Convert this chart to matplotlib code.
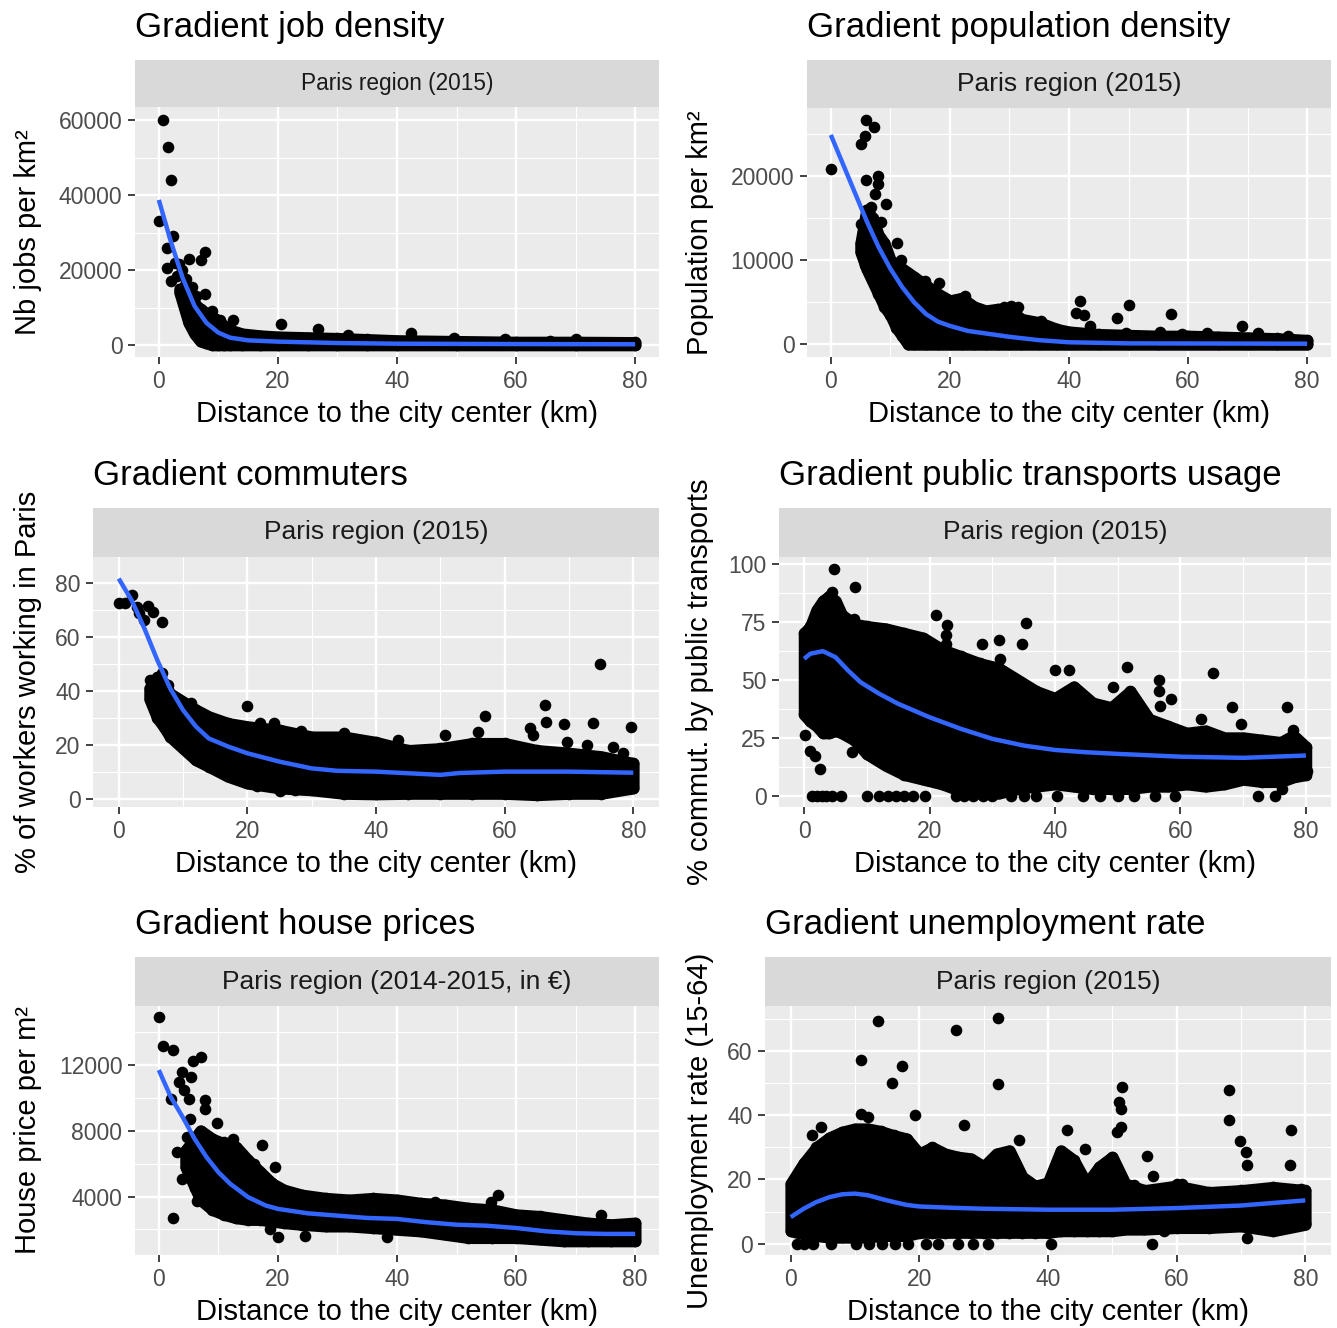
import matplotlib.pyplot as plt
import numpy as np
from matplotlib.ticker import FixedLocator

plt.rcParams['font.family'] = ['Liberation Sans', 'DejaVu Sans']

# ---------------- data ----------------
xticks = [0, 20, 40, 60, 80]

# job density
job_curve_x = [0, 2, 4, 6, 8, 10, 12, 15, 20, 30, 40, 60, 80]
job_curve_y = [38700, 27700, 17900, 10400, 5900, 3300, 1950, 1240, 900, 530, 350, 250, 200]
job_env_x = [3.5, 5, 6, 7, 8, 9, 10, 11, 12, 14, 17, 20, 25, 30, 35, 40, 50, 60, 70, 80]
job_env_lo = [14000, 6000, 3000, 1000, 500, 0, 0, 0, 0, 0, 0, 0, 0, 0, 0, 0, 0, 0, 0, 0]
job_env_hi = [15000, 14000, 11000, 9500, 8500, 7500, 6500, 5000, 4000, 3000, 2500, 2200, 2000, 1800, 1500, 1200, 1000, 800, 800, 700]
job_pts_x = [0.7, 1.6, 2.1, 0, 2.4, 1.4, 7.7, 7.0, 5.1, 1.4, 2.0, 3.4, 3.9, 7.7, 3.6, 12.5, 20.5, 26.8,
             42.4, 49.5, 10.2, 58.1, 65.7, 70, 31.8, 2.8, 3.0, 4.4, 6.2, 9.0, 4.6, 5.6]
job_pts_y = [60000, 52700, 44000, 33000, 29000, 25900, 24800, 22800, 23000, 20600, 17200, 21500, 20100,
             13700, 14400, 6600, 5500, 4200, 3300, 2000, 6800, 1500, 1200, 1500, 2800, 22000, 18500, 16000,
             13000, 9000, 17500, 15500]

# population density
pop_curve_x = [0, 2, 4, 6, 8, 10, 12, 14, 16, 18, 20, 23, 26, 30, 35, 40, 50, 80]
pop_curve_y = [24900, 21500, 18100, 14700, 11600, 9000, 6800, 5000, 3600, 2700, 2200, 1600, 1300, 900,
               500, 250, 120, 80]
pop_env_x = [5, 6, 7, 8, 9, 10, 11, 12, 13, 14, 16, 18, 20, 22, 24, 26, 28, 30, 32, 35, 38, 40, 45, 50,
             55, 60, 65, 70, 75, 80]
pop_env_lo = [11000, 9000, 7500, 6000, 4500, 3500, 2000, 1000, 0, 0, 0, 0, 0, 0, 0, 0, 0, 0, 0, 0, 0, 0,
              0, 0, 0, 0, 0, 0, 0, 0]
pop_env_hi = [12000, 16000, 15000, 13000, 12000, 10000, 9500, 9000, 8500, 8000, 7000, 6000, 5200, 5500,
              4500, 4000, 4200, 4200, 3000, 2600, 1800, 1500, 1200, 1100, 1000, 1000, 900, 800, 700, 500]
pop_pts_x = [0, 5.9, 7.3, 5.7, 5.0, 8.0, 5.9, 8.0, 7.5, 9.3, 6.8, 5.0, 8.4, 11.1, 5.7, 5.7, 11.8, 7.5,
             18.2, 15.9, 22.5, 30.3, 41.8, 41.1, 42.5, 50.1, 48.0, 57.1, 69.1, 43.5, 63.2, 71.7, 76.7,
             49.6, 55.3, 58.9, 37.8, 35.3, 29.0, 31.5]
pop_pts_y = [20900, 26700, 25900, 24800, 23800, 20000, 19500, 19100, 17900, 16700, 16300, 14300, 14500,
             12100, 10000, 9400, 10000, 7600, 7300, 7500, 5800, 4600, 5100, 3700, 3500, 4700, 3100, 3600,
             2200, 2200, 1400, 1300, 1000, 1400, 1500, 1200, 1400, 2800, 4500, 4400]

# commuters
com_curve_x = [0, 2, 4, 6, 8, 10, 12, 14, 17, 20, 25, 30, 34, 40, 45, 50, 53, 60, 70, 80]
com_curve_y = [81.6, 73.6, 63.1, 51.4, 40.9, 32.9, 26.8, 22.4, 19.4, 16.9, 13.8, 11.3, 10.4, 10.1, 9.5,
               8.9, 9.6, 10.1, 10.1, 9.7]
com_env_x = [4.8, 6, 7, 8, 10, 12, 14, 17, 20, 25, 30, 35, 40, 45, 50, 55, 60, 65, 70, 75, 80]
com_env_lo = [37, 30, 26.8, 23, 18.7, 14.4, 12, 8.3, 5.8, 4, 3.3, 2, 1.8, 2, 2, 2, 2, 1.5, 2, 2, 4]
com_env_hi = [41, 45, 42.8, 39, 36, 33, 30.5, 28, 26.8, 25.5, 23, 23, 21, 18, 18.7, 20.6, 20.6, 18, 17,
              15.7, 13.2]
com_pts_x = [0, 0.9, 2.0, 2.9, 3.9, 4.6, 5.4, 6.8, 3.2, 74.8, 20.0, 66.2, 56.9, 73.8, 69.3, 66.5, 79.6,
             55.9, 22.0, 24.1, 28.4, 50.8, 43.4, 69.7, 72.8, 76.9, 78.4, 64.0, 64.4, 35.0, 6.8, 7.7, 11.2,
             79.6, 79.7, 25.1, 27.4, 21.5, 4.9, 5.3]
com_pts_y = [72.4, 72.4, 75.5, 71.1, 66.2, 71.4, 69.3, 65.6, 68.7, 49.9, 34.5, 34.8, 30.7, 28.0, 27.7,
             28.6, 26.5, 24.7, 28.2, 28.0, 25.3, 23.7, 21.8, 21.2, 20.0, 19.4, 16.9, 26.1, 23.7, 24.3,
             46.5, 42.2, 35.4, 12.0, 3.9, 3.1, 3.3, 4.6, 44.0, 35.5]

# public transports
pt_curve_x = [0, 1, 3, 5, 7, 9, 12, 15, 20, 25, 30, 35, 40, 45, 50, 60, 70, 80]
pt_curve_y = [59.0, 61.2, 62.3, 59.7, 54.0, 48.9, 43.9, 39.6, 33.8, 28.8, 24.5, 21.6, 19.7, 18.7, 18.0,
              16.8, 16.3, 17.3]
pt_env_x = [0, 1, 2, 3, 4, 5, 6, 8, 10, 13, 16, 19, 22, 25, 28, 31, 34, 37, 40, 43, 46, 49, 52, 55, 58,
            61, 64, 67, 70, 73, 76, 78, 80]
pt_env_lo = [35, 32, 30, 27, 27, 28, 27, 24, 18, 13, 9, 7, 5, 2, 1, 1, 3, 4, 5, 4, 3, 3, 3, 4, 4, 5, 4,
             5, 7, 6, 6, 8, 9]
pt_env_hi = [70, 73, 80, 84, 86, 84, 78, 74, 73, 72, 70, 68, 63, 60, 57, 55, 50, 45, 42, 47, 40, 38, 45,
             33, 30, 27, 28, 25, 25, 24, 23, 26, 21]
pt_pts_x = [4.7, 8.1, 4.4, 7.9, 21.0, 22.8, 22.7, 22.7, 35.4, 28.3, 31.1, 31.3, 34.7, 25.9, 40.0, 42.3,
            51.4, 65.2, 56.5, 49.3, 56.5, 58.5, 56.8, 77.0, 68.2, 69.6, 63.3, 77.9, 0.1, 0.9, 1.8, 2.5,
            7.6, 10.3, 80.1, 72.3, 75.0, 76.2,
            1.2, 2.0, 2.8, 3.5, 4.5, 5.9, 10.1, 12.0, 13.3, 14.6, 16.0, 17.4, 19.3, 24.2, 25.5, 27.0,
            28.5, 30.0, 33.0, 35.0, 37.0, 40.3, 44.5, 47.2, 50.0, 52.6, 56.0, 59.1]
pt_pts_y = [97.8, 89.9, 87.8, 76.0, 78.1, 73.4, 69.1, 65.2, 74.4, 65.2, 66.9, 59.0, 65.2, 58.3, 54.0,
            54.0, 55.4, 52.8, 49.9, 46.8, 45.3, 41.7, 38.8, 38.1, 38.1, 30.9, 33.1, 28.1, 26.3, 19.4,
            17.3, 11.5, 18.7, 18.3, 10.8, 0, 0, 2.9,
            0, 0, 0, 0, 0, 0, 0, 0, 0, 0, 0, 0, 0, 0, 0, 0, 0, 0, 0, 0, 0, 0, 0, 0, 0, 0, 0, 0]

# house prices
hp_curve_x = [0, 2, 4, 6, 8, 10, 12, 15, 18, 20, 25, 30, 35, 40, 45, 50, 55, 60, 65, 70, 75, 80]
hp_curve_y = [11680, 10050, 8830, 7510, 6400, 5480, 4770, 3960, 3450, 3250, 2980, 2840, 2700, 2640,
              2440, 2290, 2230, 2090, 1890, 1770, 1730, 1730]
hp_env_x = [4.5, 7, 9, 11, 13, 15, 17, 19, 21, 24, 28, 32, 36, 40, 44, 48, 52, 56, 60, 64, 68, 72, 76, 80]
hp_env_lo = [5800, 3800, 3200, 2900, 2700, 2600, 2600, 2500, 2400, 2300, 2200, 2200, 2100, 2000, 1900,
             1700, 1500, 1500, 1500, 1400, 1300, 1300, 1300, 1300]
hp_env_hi = [6800, 8000, 7500, 7200, 7000, 6200, 5500, 4800, 4400, 4100, 3900, 3800, 3900, 3800, 3600,
             3500, 3300, 3200, 2900, 2800, 2600, 2400, 2300, 2400]
hp_pts_x = [0, 0.7, 2.3, 7.0, 5.7, 3.9, 5.4, 3.4, 4.2, 2.0, 5.0, 7.7, 7.7, 9.7, 3.0, 3.9, 6.4, 2.3, 17.3,
            12.5, 19.5, 18.6, 20.0, 24.5, 56.9, 55.8, 74.2, 38.4, 46.3, 11.0, 14.0, 16.0, 5.2, 6.0, 4.8]
hp_pts_y = [14880, 13140, 12890, 12490, 12240, 11570, 11230, 10960, 10460, 9950, 9950, 9890, 9340, 8470,
            6700, 5040, 3720, 2700, 7100, 7510, 5790, 2030, 1520, 1580, 4120, 3650, 2900, 1520, 3650,
            7300, 6600, 6000, 8700, 4500, 7600]

# unemployment
un_curve_x = [0, 2, 4, 6, 8, 10, 12, 14, 16, 18, 20, 25, 30, 40, 50, 60, 70, 80]
un_curve_y = [8.3, 10.9, 13.0, 14.5, 15.4, 15.6, 15.1, 14.0, 13.0, 12.1, 11.6, 11.2, 10.9, 10.6, 10.6,
              11.1, 11.9, 13.5]
un_env_x = [0, 2, 4, 6, 8, 10, 12, 14, 16, 18, 20, 22, 24, 26, 28, 30, 32, 34, 36, 38, 40, 42, 44, 46,
            48, 50, 52, 55, 60, 65, 70, 75, 80]
un_env_lo = [4, 3, 2.5, 2, 2, 2, 2, 2.5, 2.5, 2.5, 3.5, 3.5, 3.5, 3.5, 3.5, 3.5, 3.5, 3.5, 3.5, 3.5, 3.5,
             4, 4, 4, 4, 4, 4.5, 4.5, 5, 5, 5.5, 4, 6]
un_env_hi = [18.7, 25, 30, 33, 34.8, 35.8, 35.8, 35, 33.7, 32.7, 28, 30, 28, 27, 26.5, 24, 28, 29, 20.8,
             18, 19, 29, 26, 18.7, 24, 27, 18.7, 16.6, 18, 16, 16.6, 17.6, 16.6]
un_pts_x = [13.5, 32.2, 25.7, 11.0, 17.3, 15.8, 32.2, 51.5, 68.1, 51.1, 51.3, 51.3, 50.8, 68.2, 77.8,
            19.3, 11.0, 12.0, 43.0, 26.9, 3.3, 4.7, 35.5, 45.8, 69.8, 70.8, 55.4, 56.3, 71.0, 77.6, 79.4,
            80, 71.0, 56.2, 40.4, 58.0, 60, 60.8, 53.4,
            1.0, 2.0, 3.5, 6.3, 10.2, 12.2, 14.2, 16.2, 18.2, 21.1, 22.9, 26.0, 28.3, 30.6]
un_pts_y = [69.2, 70.3, 66.6, 57.1, 55.3, 50.0, 49.8, 48.8, 47.8, 44.1, 42.0, 36.3, 34.8, 38.6, 35.5,
            40.0, 40.5, 39.4, 35.5, 36.9, 33.7, 36.3, 32.2, 29.6, 32.0, 28.5, 27.3, 21.0, 24.4, 24.4, 17.1,
            6.4, 1.9, 0, 0, 3.9, 18.5, 18.7, 18.2,
            0, 0, 0, 0, 0, 0, 0, 0, 0, 0, 0, 0, 0, 0]

# ---------------- figure ----------------
W, H = 1337, 1328
fig = plt.figure(figsize=(W / 100, H / 100), dpi=100)

BLUE = '#3366FF'
PANEL = '#EBEBEB'
STRIP = '#D9D9D9'
DOT = 70
DOT_LW = 8.4


def px_axes(left, top, right, bottom):
    return fig.add_axes([left / W, 1 - bottom / H, (right - left) / W, (bottom - top) / H])


def panel(box, title, strip, strip_fs, ylabel, ylab_x, yticks, yminor, ylim,
          cx, cy, ex, elo, ehi, px, py):
    left, right, s_top, s_bot, bottom = box
    ax = px_axes(left, s_bot, right, bottom)
    ax.set_facecolor(PANEL)
    for sp in ax.spines.values():
        sp.set_visible(False)
    ax.set_xlim(-4, 84)
    ax.set_ylim(*ylim)
    ax.set_xticks(xticks)
    ax.set_xticklabels([str(t) for t in xticks])
    ax.set_yticks(yticks)
    ax.set_yticklabels([str(t) for t in yticks])
    ax.xaxis.set_minor_locator(FixedLocator([10, 30, 50, 70]))
    ax.yaxis.set_minor_locator(FixedLocator(yminor))
    ax.grid(which='major', color='white', linewidth=1.7, zorder=0)
    ax.grid(which='minor', color='white', linewidth=0.85, zorder=0)
    ax.set_axisbelow(True)
    ax.tick_params(which='major', length=5, width=1.3, color='#333333',
                   labelsize=16.5, labelcolor='#4D4D4D', pad=4)
    ax.tick_params(which='minor', length=0)

    # dense cloud of points, then single points
    ax.fill_between(ex, elo, ehi, facecolor='black', edgecolor='black',
                    linewidth=DOT_LW, joinstyle='round', zorder=2)
    ax.scatter(ex + ex, elo + ehi, s=DOT, color='black', linewidths=0, zorder=2)
    ax.scatter(px, py, s=DOT, color='black', linewidths=0, zorder=2)
    ax.plot(cx, cy, color=BLUE, linewidth=3.2, zorder=3, solid_capstyle='butt')

    # strip
    sax = px_axes(left, s_top, right, s_bot)
    sax.set_facecolor(STRIP)
    sax.set_xticks([])
    sax.set_yticks([])
    for sp in sax.spines.values():
        sp.set_visible(False)
    sax.text(0.5, 0.5, strip, ha='center', va='center', fontsize=strip_fs,
             color='#1A1A1A', transform=sax.transAxes)

    # titles
    fig.text(left / W, 1 - (s_top - 23) / H, title, fontsize=25, ha='left', va='baseline')
    fig.text((left + right) / 2 / W, 1 - (bottom + 57) / H,
             'Distance to the city center (km)', fontsize=21, ha='center', va='center')
    fig.text(ylab_x / W, 1 - (s_bot + bottom) / 2 / H, ylabel, fontsize=21,
             rotation=90, ha='center', va='center')
    return ax


panel((135, 659, 60, 107, 357), 'Gradient job density', 'Paris region (2015)', 16.3,
      'Nb jobs per km²', 28, [0, 20000, 40000, 60000], [10000, 30000, 50000], (-3200, 63500),
      job_curve_x, job_curve_y, job_env_x, job_env_lo, job_env_hi, job_pts_x, job_pts_y)

panel((807, 1331, 60, 108, 357), 'Gradient population density', 'Paris region (2015)', 19,
      'Population per km²', 700, [0, 10000, 20000], [5000, 15000, 25000], (-1500, 28100),
      pop_curve_x, pop_curve_y, pop_env_x, pop_env_lo, pop_env_hi, pop_pts_x, pop_pts_y)

panel((93, 659, 508, 557, 807), 'Gradient commuters', 'Paris region (2015)', 19,
      '% of workers working in Paris', 28, [0, 20, 40, 60, 80], [10, 30, 50, 70], (-3, 89.6),
      com_curve_x, com_curve_y, com_env_x, com_env_lo, com_env_hi, com_pts_x, com_pts_y)

panel((779, 1331, 508, 557, 807), 'Gradient public transports usage', 'Paris region (2015)', 19,
      '% commut. by public transports', 700, [0, 25, 50, 75, 100], [12.5, 37.5, 62.5, 87.5],
      (-4.9, 102.9),
      pt_curve_x, pt_curve_y, pt_env_x, pt_env_lo, pt_env_hi, pt_pts_x, pt_pts_y)

panel((135, 659, 957, 1006, 1255), 'Gradient house prices', 'Paris region (2014-2015, in €)', 19,
      'House price per m²', 28, [4000, 8000, 12000], [2000, 6000, 10000, 14000], (450, 15570),
      hp_curve_x, hp_curve_y, hp_env_x, hp_env_lo, hp_env_hi, hp_pts_x, hp_pts_y)

panel((765, 1331, 957, 1006, 1255), 'Gradient unemployment rate', 'Paris region (2015)', 19,
      'Unemployment rate (15-64)', 700, [0, 20, 40, 60], [10, 30, 50, 70], (-3.5, 74),
      un_curve_x, un_curve_y, un_env_x, un_env_lo, un_env_hi, un_pts_x, un_pts_y)

fig.savefig('out.png', dpi=100)
